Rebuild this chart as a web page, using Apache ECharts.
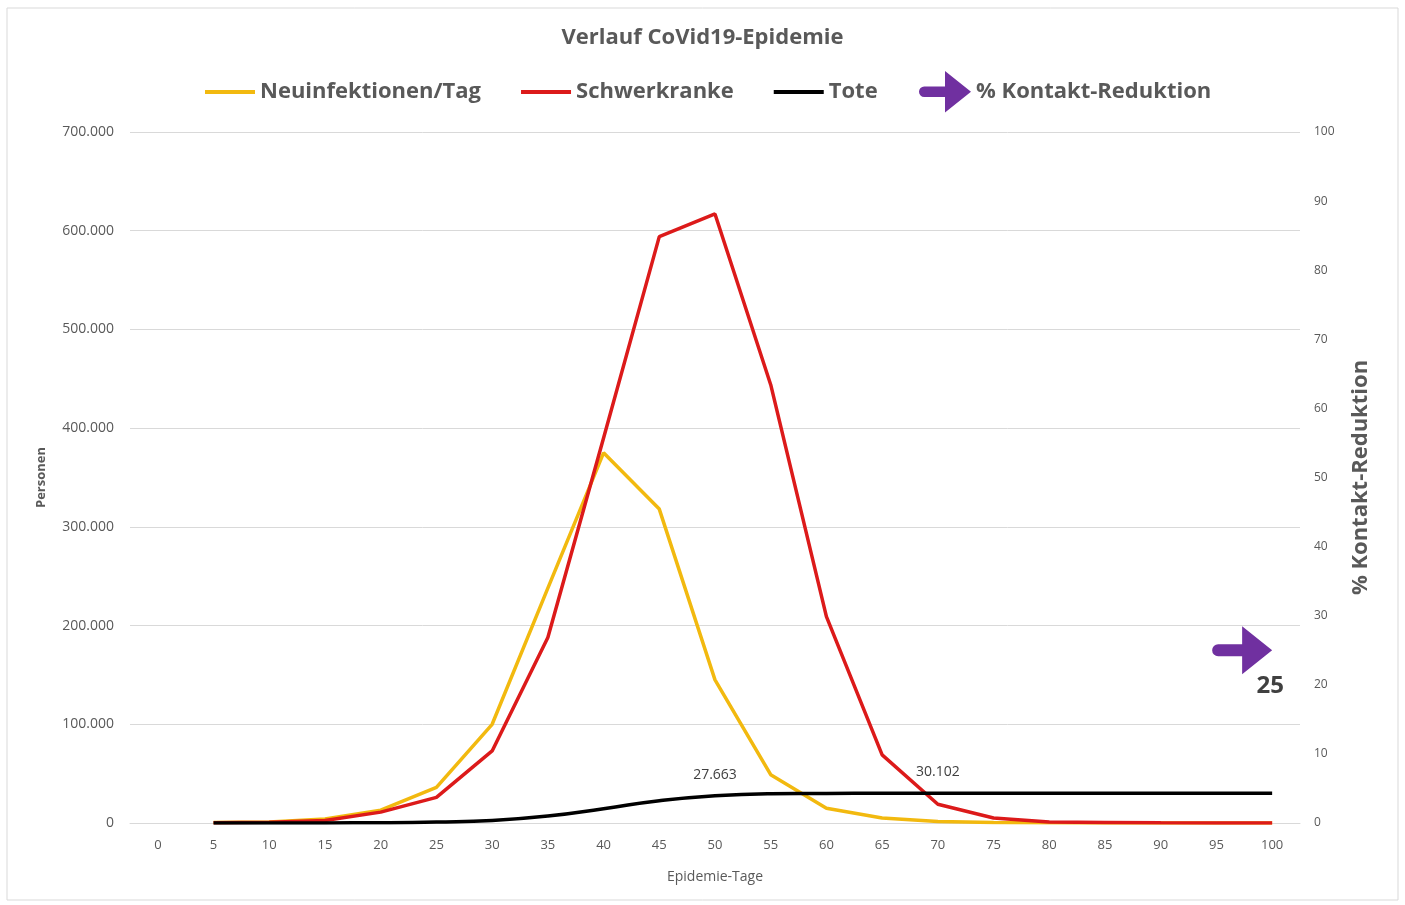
<html>
<head>
    <meta charset="utf-8">
    <title>Verlauf CoVid19-Epidemie</title>
    <script src="https://cdn.jsdelivr.net/npm/echarts@6/dist/echarts.min.js"></script>
    <style>
        html, body { margin: 0; padding: 0; background: #fff; }
        #chart { width: 1405px; height: 905px; }
    </style>
</head>
<body>
<div id="chart"></div>
<script>
    // Epidemie-Tage (x-Achse)
    var tage = ['0', '5', '10', '15', '20', '25', '30', '35', '40', '45', '50',
        '55', '60', '65', '70', '75', '80', '85', '90', '95', '100'];
    // Neuinfektionen pro Tag
    var neuinfektionen = [null, 500, 1000, 4000, 13000, 36000, 100000, 238000, 375000, 318000, 145000,
        49000, 15000, 5000, 1500, 500, 200, 100, 0, 0, 0];
    // Schwerkranke
    var schwerkranke = [null, 200, 800, 2500, 11000, 26000, 73000, 188000, 390000, 594000, 617000,
        444000, 209000, 69000, 19000, 5000, 1000, 600, 200, 100, 0];
    // Tote (kumuliert)
    var tote = [null, 0, 0, 100, 300, 1000, 2500, 7000, 14500, 22500, 27663,
        29700, 30000, 30080, 30102, 30102, 30102, 30102, 30102, 30102, 30102];
    // Tage mit Beschriftung der Toten
    var toteLabelTage = ['50', '70'];
    // % Kontakt-Reduktion
    var kontaktTag = '100';
    var kontaktWert = 25;

    var grau = '#595959';
    var lila = '#7030a0';
    var font = 'Open Sans';
    var pfeil = 'path://M6,18 L30,18 L30,0 L60,24 L30,48 L30,30 L6,30 A6,6 0 0 1 6,18 Z';

    function tausender(v) {
        return String(v).replace(/\B(?=(\d{3})+(?!\d))/g, '.');
    }

    var toteDaten = tote.map(function (v, i) {
        if (toteLabelTage.indexOf(tage[i]) >= 0) {
            return { value: v, label: { show: true } };
        }
        return v;
    });

    var legendText = { color: grau, fontSize: 22, fontWeight: 'bold', fontFamily: font };

    var option = {
        backgroundColor: '#fff',
        textStyle: { fontFamily: font },
        title: {
            text: 'Verlauf CoVid19-Epidemie',
            left: 'center',
            top: 22,
            textStyle: { color: grau, fontSize: 22, fontWeight: 'bold', fontFamily: font }
        },
        graphic: [{
            type: 'rect',
            shape: { x: 7, y: 8, width: 1391, height: 892 },
            style: { fill: 'none', stroke: '#d9d9d9', lineWidth: 1 },
            silent: true
        }],
        legend: [{
            left: 200,
            top: 76,
            itemWidth: 50,
            itemHeight: 4,
            itemGap: 40,
            icon: 'rect',
            textStyle: legendText,
            data: ['Neuinfektionen/Tag', 'Schwerkranke', 'Tote']
        }, {
            left: 914,
            top: 66,
            itemWidth: 52,
            itemHeight: 48,
            icon: pfeil,
            itemStyle: { color: lila, opacity: 1 },
            textStyle: legendText,
            data: ['% Kontakt-Reduktion']
        }],
        grid: { left: 130, right: 105, top: 132, bottom: 82 },
        xAxis: {
            type: 'category',
            data: tage,
            boundaryGap: true,
            name: 'Epidemie-Tage',
            nameLocation: 'middle',
            nameGap: 47,
            nameTextStyle: { color: grau, fontSize: 14, fontFamily: font },
            axisLine: { lineStyle: { color: '#d9d9d9' } },
            axisTick: { show: false },
            axisLabel: { color: grau, fontSize: 13, margin: 16, fontFamily: font }
        },
        yAxis: [{
            type: 'value',
            min: 0,
            max: 700000,
            interval: 100000,
            name: 'Personen',
            nameLocation: 'middle',
            nameGap: 82,
            nameRotate: 90,
            nameTextStyle: { color: grau, fontSize: 13, fontWeight: 'bold', fontFamily: font },
            axisLine: { show: false },
            axisTick: { show: false },
            axisLabel: { color: grau, fontSize: 14, margin: 16, fontFamily: font, formatter: tausender },
            splitLine: { lineStyle: { color: '#d9d9d9' } }
        }, {
            type: 'value',
            min: 0,
            max: 100,
            interval: 10,
            position: 'right',
            name: '% Kontakt-Reduktion',
            nameLocation: 'middle',
            nameGap: 50,
            nameRotate: 90,
            nameTextStyle: { color: grau, fontSize: 22, fontWeight: 'bold', fontFamily: font },
            axisLine: { show: false },
            axisTick: { show: false },
            axisLabel: { color: grau, fontSize: 12, margin: 14, fontFamily: font },
            splitLine: { show: false }
        }],
        series: [{
            name: 'Neuinfektionen/Tag',
            type: 'line',
            data: neuinfektionen,
            color: '#f2b90f',
            showSymbol: false,
            lineStyle: { width: 3.5 }
        }, {
            name: 'Schwerkranke',
            type: 'line',
            data: schwerkranke,
            color: '#dc1a1a',
            showSymbol: false,
            lineStyle: { width: 3.5 }
        }, {
            name: 'Tote',
            type: 'line',
            data: toteDaten,
            color: '#000',
            smooth: true,
            symbol: 'circle',
            symbolSize: 0,
            showSymbol: true,
            lineStyle: { width: 3.5 },
            label: {
                show: false,
                position: 'top',
                distance: 14,
                color: '#404040',
                fontSize: 14,
                fontFamily: font,
                formatter: function (p) { return tausender(p.value); }
            }
        }, {
            name: '% Kontakt-Reduktion',
            type: 'scatter',
            yAxisIndex: 1,
            data: [[kontaktTag, kontaktWert]],
            itemStyle: { color: lila, opacity: 1 },
            symbol: pfeil,
            symbolSize: [60, 48],
            symbolOffset: [-30, 0],
            label: {
                show: true,
                position: 'bottom',
                offset: [28, -5],
                color: '#404040',
                fontSize: 24,
                fontWeight: 'bold',
                fontFamily: font,
                formatter: function (p) { return p.value[1]; }
            }
        }]
    };

    var chart = echarts.init(document.getElementById('chart'));
    chart.setOption(option);
    window.onresize = function () {
        chart.resize();
    };
</script>
</body>
</html>
